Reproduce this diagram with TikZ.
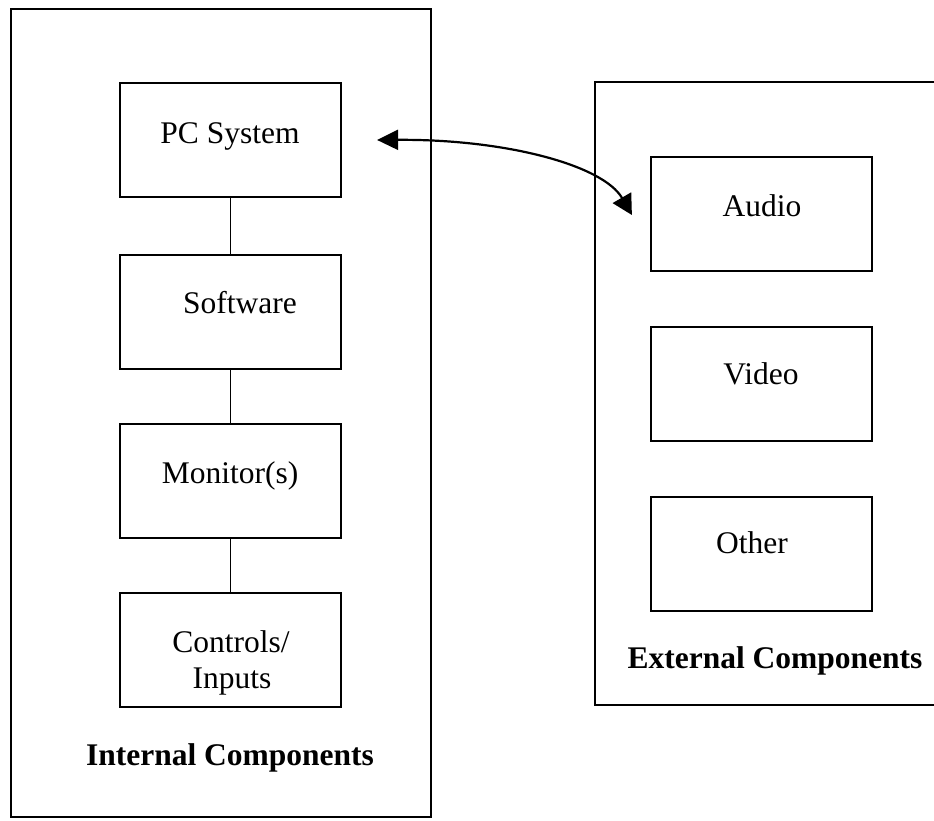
\documentclass[tikz,border=0pt]{standalone}
\usepackage{fontspec}
\setmainfont{Liberation Serif}
\usetikzlibrary{arrows.meta}
\tikzset{
  box/.style={draw, line width=2.2pt, minimum width=221pt, minimum height=114pt, inner sep=0pt},
  outerbox/.style={draw, line width=2.1pt, inner sep=0pt},
  txt/.style={anchor=base, inner sep=0pt, font=\fontsize{31.5}{36}\selectfont},
  btxt/.style={anchor=base, inner sep=0pt, font=\fontsize{31.5}{36}\selectfont\bfseries},
  link/.style={line width=1.5pt},
  dblarrow/.style={line width=2.2pt, {Triangle[length=21pt,width=20pt]}-{Triangle[length=20pt,width=21pt]}}
}
\begin{document}
\begin{tikzpicture}[x=1pt,y=-1pt]
\clip (0,0) rectangle (934,820);
\fill[white] (0,0) rectangle (934,820);
% containers
\node[outerbox, minimum width=420pt, minimum height=808pt] (intbox) at (221,413) {};
\node[outerbox, minimum width=365pt, minimum height=623pt] (extbox) at (777.5,393.5) {};
% internal boxes
\node[box] (pc)  at (230.5,140) {};
\node[box] (sw)  at (230.5,312) {};
\node[box] (mon) at (230.5,481) {};
\node[box] (ctl) at (230.5,650) {};
% external boxes
\node[box] (audio) at (761.5,214) {};
\node[box] (video) at (761.5,384) {};
\node[box] (other) at (761.5,554) {};
% texts
\node[txt] (tpc) at (230,143) {PC System};
\node[txt] (tsw) at (240,313) {Software};
\node[txt] (tmon) at (230,483) {Monitor(s)};
\node[txt] (tctl1) at (231,652) {Controls/};
\node[txt] (tctl2) at (232,688) {Inputs};
\node[btxt] (tint) at (230,765) {Internal Components};
\node[txt] (taud) at (762,216) {Audio};
\node[txt] (tvid) at (761,384) {Video};
\node[txt] (toth) at (752,553) {Other};
\node[btxt] (text) at (775,668) {External Components};
% links
\draw[link] (pc) -- (sw);
\draw[link] (sw) -- (mon);
\draw[link] (mon) -- (ctl);
% arrow
\coordinate (aL) at ([xshift=35pt]pc.east);
\coordinate (aR) at ([xshift=-18pt,yshift=-1pt]audio.west);
\draw[dblarrow] (aL) .. controls (505,139) and (603,165) .. (aR);
\end{tikzpicture}
\end{document}
